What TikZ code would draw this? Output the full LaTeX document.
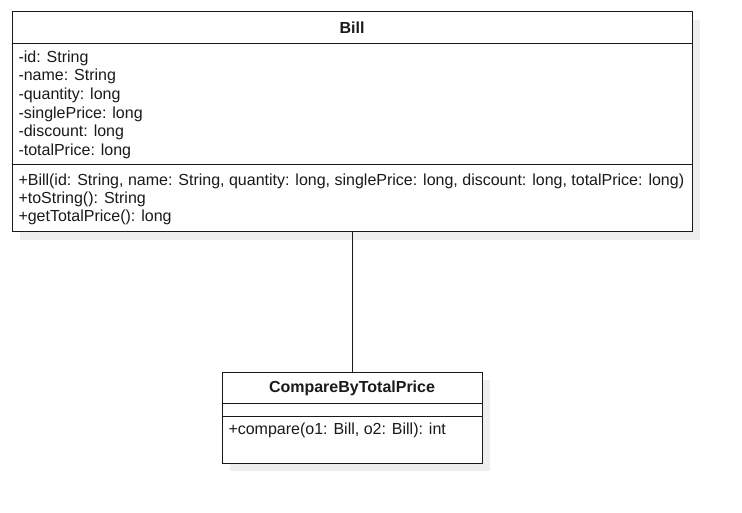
\documentclass[tikz,border=0pt]{standalone}
\usepackage{fontspec}
\setmainfont{Liberation Sans}
\usetikzlibrary{positioning,shadows}
\definecolor{umlink}{HTML}{1A1A1A}
\definecolor{umlshade}{HTML}{EEEEEE}

\begin{document}
\begin{tikzpicture}[x=1pt,y=-1pt,line width=1pt,line join=miter,
  font=\fontsize{16}{18.6}\selectfont,text=umlink,
  classbox/.style={draw=umlink,fill=white,inner sep=0pt,
    drop shadow={shadow xshift=8pt,shadow yshift=-8pt,fill=umlshade,opacity=1}},
  title/.style={font=\fontsize{16}{18}\selectfont\bfseries,inner sep=0pt},
  members/.style={anchor=north west,align=left,inner sep=0pt}]
\path[use as bounding box] (0,0) rectangle (742,513);
\fill[white] (0,0) rectangle (742,513);
% classes
\node[classbox,minimum width=680pt,minimum height=220pt] (bill) at (352,122) {};
\node[classbox,minimum width=260pt,minimum height=91pt] (cmp) at (352,417.5) {};
% compartments
\draw[umlink] (12,43.5) -- (692,43.5);
\draw[umlink] (12,165) -- (692,165);
\draw[umlink] (222,403) -- (482,403);
\draw[umlink] (222,416) -- (482,416);
% texts
\node[title] (billname) at (352,28) {Bill};
\node[members] (billattr) at (18,50.3)
  {-id: String\\-name: String\\-quantity: long\\-singlePrice: long\\-discount: long\\-totalPrice: long};
\node[members,font=\fontsize{16}{18}\selectfont] (billops) at (18,173.3)
  {+Bill(id: String, name: String, quantity: long, singlePrice: long, discount: long, totalPrice: long)\\+toString(): String\\+getTotalPrice(): long};
\node[title] (cmpname) at (352,388) {CompareByTotalPrice};
\node[members] (cmpops) at (228,422.3) {+compare(o1: Bill, o2: Bill): int};
% association
\draw[umlink] (bill.south) -- (cmp.north);
\end{tikzpicture}
\end{document}
